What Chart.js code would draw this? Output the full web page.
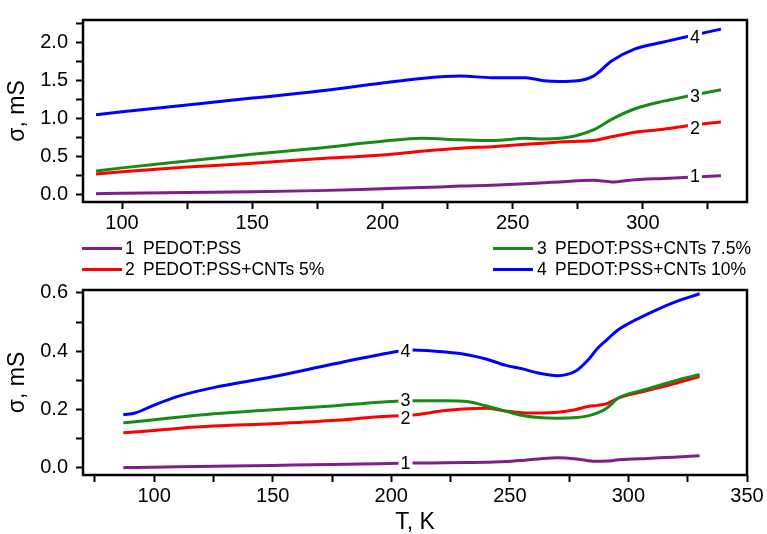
<!DOCTYPE html>
<html>
<head>
<meta charset="utf-8">
<script src="https://cdn.jsdelivr.net/npm/chart.js@4.4.1/dist/chart.umd.min.js"></script>
<style>
  body { margin: 0; background: #fff; }
  #wrap { position: relative; width: 767px; height: 534px; font-family: "Liberation Sans", Arial, sans-serif; }
  canvas { position: absolute; left: 0; }
  .lg-line { position: absolute; height: 3px; }
  .lg-txt { position: absolute; font-size: 17.5px; line-height: 20px; color: #000; white-space: pre; }
</style>
</head>
<body>
<div id="wrap">
  <canvas id="topChart" width="767" height="232" style="top:0"></canvas>
  <canvas id="bottomChart" width="767" height="302" style="top:232px"></canvas>
  <div id="legend"></div>
</div>
<script>
// ---- data ----
const seriesNames = ['PEDOT:PSS', 'PEDOT:PSS+CNTs 5%', 'PEDOT:PSS+CNTs 7.5%', 'PEDOT:PSS+CNTs 10%'];
const seriesColors = ['#7f1f8a', '#ff0000', '#178a17', '#0000ff'];

// upper panel, T in K, sigma in mS
const topT = [90, 100, 125, 150, 175, 200, 215, 230, 242, 255, 262, 268, 275, 281, 288, 297, 308, 318, 330];
const topS1 = [0.01, 0.015, 0.025, 0.035, 0.05, 0.075, 0.09, 0.11, 0.12, 0.14, 0.155, 0.165, 0.18, 0.186, 0.165, 0.195, 0.21, 0.225, 0.245];
const topS2 = [0.27, 0.30, 0.36, 0.41, 0.47, 0.52, 0.57, 0.61, 0.63, 0.66, 0.675, 0.69, 0.70, 0.71, 0.76, 0.82, 0.86, 0.91, 0.955];
const topS3 = [0.31, 0.35, 0.44, 0.53, 0.61, 0.70, 0.74, 0.72, 0.71, 0.74, 0.73, 0.74, 0.78, 0.85, 0.99, 1.13, 1.23, 1.30, 1.38];
const topS4 = [1.05, 1.09, 1.18, 1.27, 1.36, 1.47, 1.53, 1.56, 1.54, 1.54, 1.50, 1.49, 1.50, 1.56, 1.76, 1.92, 2.01, 2.09, 2.18];

// lower panel
const botT = [87, 92, 100, 110, 125, 150, 175, 195, 209, 223, 232, 240, 248, 255, 262, 270, 278, 283, 287, 291, 296, 308, 319, 330];
const botS1 = [0.0, 0.001, 0.002, 0.003, 0.005, 0.008, 0.011, 0.014, 0.016, 0.017, 0.018, 0.019, 0.021, 0.025, 0.03, 0.034, 0.03, 0.024, 0.022, 0.023, 0.027, 0.032, 0.036, 0.041];
const botS2 = [0.12, 0.123, 0.128, 0.135, 0.143, 0.151, 0.162, 0.175, 0.181, 0.196, 0.202, 0.204, 0.195, 0.189, 0.188, 0.19, 0.20, 0.21, 0.214, 0.22, 0.24, 0.265, 0.288, 0.313];
const botS3 = [0.154, 0.158, 0.165, 0.173, 0.185, 0.199, 0.212, 0.225, 0.23, 0.23, 0.227, 0.212, 0.195, 0.18, 0.172, 0.17, 0.172, 0.178, 0.188, 0.205, 0.24, 0.27, 0.297, 0.32];
const botS4 = [0.182, 0.188, 0.215, 0.245, 0.275, 0.312, 0.355, 0.388, 0.404, 0.397, 0.388, 0.373, 0.352, 0.34, 0.325, 0.316, 0.333, 0.37, 0.41, 0.44, 0.475, 0.527, 0.567, 0.597];

// tick positions
const topXTicks = [100, 125, 150, 175, 200, 225, 250, 275, 300, 325];
const topYTicks = [0, 0.25, 0.5, 0.75, 1, 1.25, 1.5, 1.75, 2, 2.25];
const botXTicks = [75, 100, 125, 150, 175, 200, 225, 250, 275, 300, 325, 350];
const botYTicks = [0, 0.1, 0.2, 0.3, 0.4, 0.5, 0.6];

// curve number labels: T position and sigma of each label
const topLabelT = 320;
const topLabelS = [0.239, 0.869, 1.298, 2.082];
const botLabelT = 206;
const botLabelS = [0.016, 0.169, 0.231, 0.399];

Chart.defaults.font.family = '"Liberation Sans", Arial, sans-serif';
Chart.defaults.color = '#000';

// black box around the plot area
const framePlugin = {
    id: 'frame',
    afterDraw(chart) {
        const {ctx, chartArea: a} = chart;
        ctx.save();
        ctx.lineWidth = 2.5;
        ctx.strokeStyle = '#000';
        ctx.strokeRect(a.left, a.top, a.right - a.left, a.bottom - a.top);
        ctx.restore();
    }
};

// numbers 1..4 written on the curves, with a white gap under them
const curveLabelPlugin = {
    id: 'curveLabels',
    afterDatasetsDraw(chart, args, opts) {
        const {ctx, scales: {x, y}} = chart;
        ctx.save();
        ctx.font = '18px "Liberation Sans", Arial, sans-serif';
        ctx.textAlign = 'center';
        ctx.textBaseline = 'middle';
        opts.values.forEach((v, i) => {
            const px = x.getPixelForValue(opts.at);
            const py = y.getPixelForValue(v);
            ctx.fillStyle = '#fff';
            ctx.fillRect(px - 7, py - 9, 14, 18);
            ctx.fillStyle = '#000';
            ctx.fillText(String(i + 1), px, py + 1);
        });
        ctx.restore();
    }
};

function toPoints(xs, ys) {
    return xs.map((t, i) => ({x: t, y: ys[i]}));
}

function makeDatasets(xs, list) {
    // blue on top, purple at the bottom
    return list.map((ys, i) => ({
        label: seriesNames[i],
        data: toPoints(xs, ys),
        borderColor: seriesColors[i],
        borderWidth: 3,
        pointRadius: 0,
        cubicInterpolationMode: 'monotone',
        order: 4 - i
    }));
}

function isMultiple(v, step) {
    const r = v / step;
    return Math.abs(r - Math.round(r)) < 1e-6;
}

function axis(min, max, ticks, labelStep, decimals, fit) {
    return {
        type: 'linear',
        min: min,
        max: max,
        afterBuildTicks: s => { s.ticks = ticks.map(v => ({value: v})); },
        afterFit: fit,
        border: {display: false},
        grid: {drawOnChartArea: false, tickLength: 7, tickColor: '#000', tickWidth: 2},
        ticks: {
            autoSkip: false,
            maxRotation: 0,
            font: {size: 20},
            callback: v => isMultiple(v, labelStep) ? v.toFixed(decimals) : ''
        }
    };
}

// ---- upper panel ----
const topX = axis(85, 340, topXTicks, 50, 0, s => { s.height = 30; });
topX.ticks.padding = 2;
const topY = axis(-0.1, 2.3, topYTicks, 0.5, 1, s => { s.width = 83; });
topY.ticks.padding = 8;
topY.title = {display: true, text: 'σ, mS', font: {size: 23}, padding: {top: 4}};

new Chart(document.getElementById('topChart'), {
    type: 'line',
    data: {datasets: makeDatasets(topT, [topS1, topS2, topS3, topS4])},
    options: {
        responsive: false,
        animation: false,
        layout: {padding: {top: 15, right: 20, left: 0, bottom: 0}},
        scales: {x: topX, y: topY},
        plugins: {
            legend: {display: false},
            tooltip: {enabled: false},
            curveLabels: {at: topLabelT, values: topLabelS}
        }
    },
    plugins: [curveLabelPlugin, framePlugin]
});

// ---- lower panel ----
const botX = axis(70, 350, botXTicks, 50, 0, s => { s.height = 59; });
botX.ticks.padding = 2;
botX.title = {display: true, text: 'T, K', font: {size: 23, lineHeight: 1}, padding: {top: 0, bottom: 0}};
const botY = axis(-0.025, 0.61, botYTicks, 0.2, 1, s => { s.width = 83; });
botY.ticks.padding = 8;
botY.title = {display: true, text: 'σ, mS', font: {size: 23}, padding: {top: 4}};

new Chart(document.getElementById('bottomChart'), {
    type: 'line',
    data: {datasets: makeDatasets(botT, [botS1, botS2, botS3, botS4])},
    options: {
        responsive: false,
        animation: false,
        layout: {padding: {top: 58, right: 20, left: 0, bottom: 0}},
        scales: {x: botX, y: botY},
        plugins: {
            legend: {display: false},
            tooltip: {enabled: false},
            curveLabels: {at: botLabelT, values: botLabelS}
        }
    },
    plugins: [curveLabelPlugin, framePlugin]
});

// ---- legend between the panels, two columns ----
const legendSpots = [
    {line: 82, num: 125, txt: 143, y: 248},
    {line: 82, num: 125, txt: 143, y: 269},
    {line: 493, num: 537, txt: 555, y: 248},
    {line: 493, num: 537, txt: 555, y: 269}
];
const legend = document.getElementById('legend');
legendSpots.forEach((p, i) => {
    const ln = document.createElement('div');
    ln.className = 'lg-line';
    ln.style.cssText = `left:${p.line}px;top:${p.y - 1.5}px;width:40px;background:${seriesColors[i]}`;
    legend.appendChild(ln);

    const num = document.createElement('div');
    num.className = 'lg-txt';
    num.style.cssText = `left:${p.num}px;top:${p.y - 10}px`;
    num.textContent = String(i + 1);
    legend.appendChild(num);

    const txt = document.createElement('div');
    txt.className = 'lg-txt';
    txt.style.cssText = `left:${p.txt}px;top:${p.y - 10}px`;
    txt.textContent = seriesNames[i];
    legend.appendChild(txt);
});
</script>
</body>
</html>
